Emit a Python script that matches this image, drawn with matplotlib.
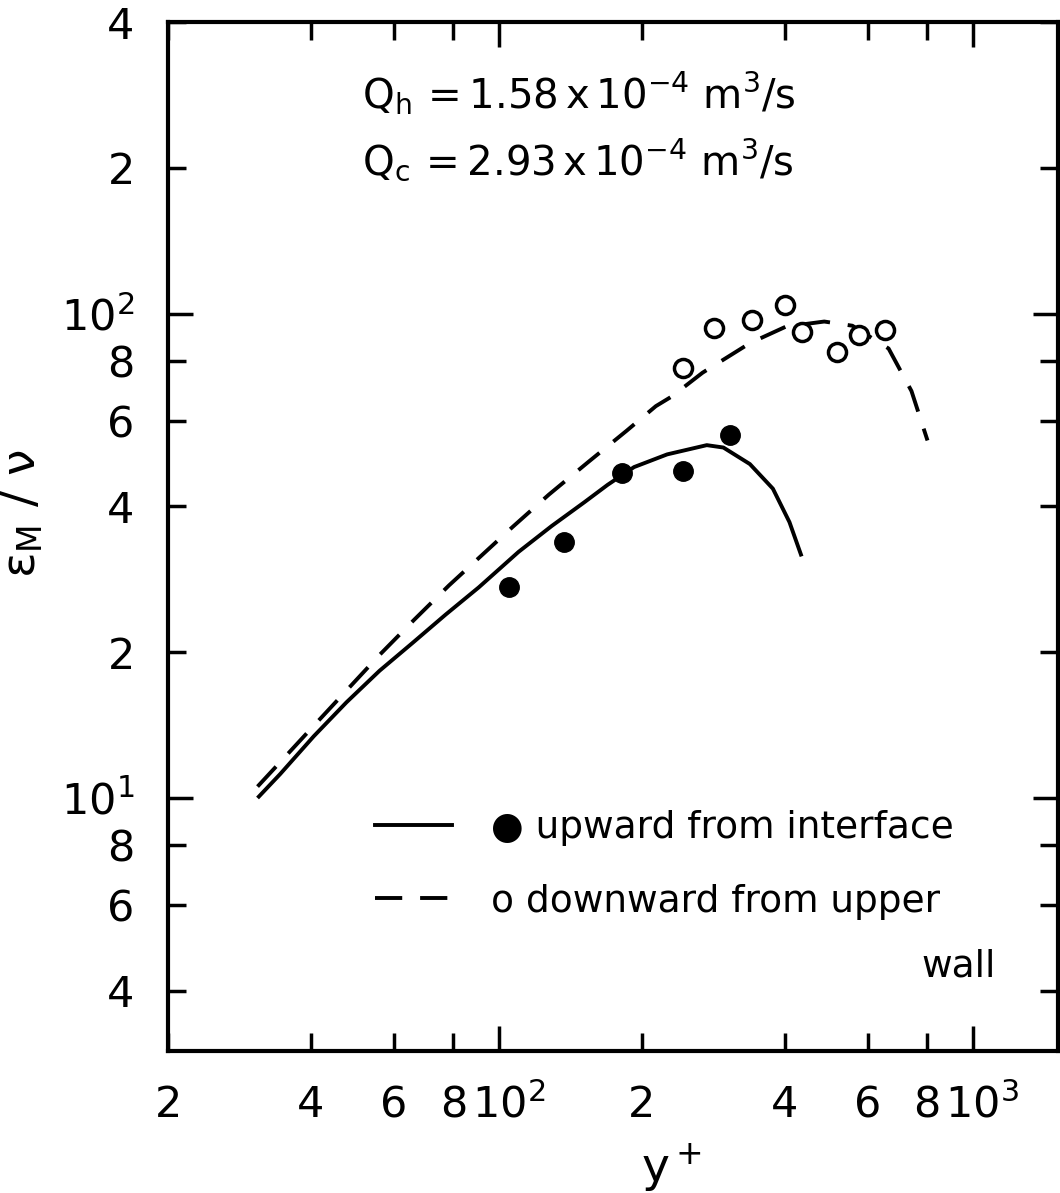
import matplotlib
matplotlib.use("Agg")
import matplotlib.pyplot as plt
import matplotlib.transforms as mtransforms
from matplotlib.ticker import FixedLocator, FixedFormatter

# curves
x_solid = [31.1, 34.5, 40.6, 47.6, 55.9, 65.7, 77.1, 90.5, 109.8, 128.9, 151.3,
           169.3, 192.5, 226.1, 274.1, 297.1, 337.9, 377.9, 409.6, 433.1]
y_solid = [10.06, 11.2, 13.4, 15.75, 18.3, 20.91, 23.91, 27.2, 32.2, 36.4, 40.8,
           44.3, 48.2, 51.2, 53.5, 52.9, 48.9, 43.5, 37.1, 31.8]

x_dash = [30.9, 34.3, 39.9, 47.2, 55.9, 66.2, 78.3, 106.7, 127.2, 153.8, 185.7,
          214, 231.6, 268.5, 338, 402.6, 485, 556, 663, 741, 801]
y_dash = [10.55, 11.78, 13.83, 16.51, 19.73, 23.34, 27.45, 36.26, 42.27, 49.3, 57.3,
          64.4, 67.5, 75.5, 86.9, 94.0, 96.3, 94.4, 84.7, 69.2, 54.7]

# measured points
x_up = [105.1, 136.8, 181.6, 244, 306.8]
y_up = [27.2, 33.8, 46.8, 47.2, 56.1]

x_down = [244.5, 284.5, 341, 400, 435.5, 516, 574, 652]
y_down = [77.1, 93.5, 96.8, 104, 91.6, 83.4, 90.3, 92.5]

x_major = [100, 1000]
x_major_labels = [r'$10^2$', r'$10^3$']
x_minor = [20, 40, 60, 80, 200, 400, 600, 800]
x_minor_labels = ['2', '4', '6', '8', '2', '4', '6', '8']

y_major = [10, 100]
y_major_labels = [r'$10^1$', r'$10^2$']
y_minor = [4, 6, 8, 20, 40, 60, 80, 200, 400]
y_minor_labels = ['4', '6', '8', '2', '4', '6', '8', '2', '4']

plt.rcParams['font.family'] = ['DejaVu Sans']

fig = plt.figure(figsize=(10.6, 11.93), dpi=100)
ax = fig.add_axes([0.1585, 0.119, 0.8396, 0.8625])
ax.set_xscale('log')
ax.set_yscale('log')

solid, = ax.plot(x_solid, y_solid, color='black', lw=2.8)
dashed, = ax.plot(x_dash, y_dash, color='black', lw=2.8, linestyle=(0, (7, 4.6)))
ax.plot(x_up, y_up, 'o', color='black', markersize=14)
ax.plot(x_down, y_down, 'o', markerfacecolor='white', markeredgecolor='black',
        markersize=13, markeredgewidth=2.5)

ax.set_xlim(20, 1510)
ax.set_ylim(3.0, 400)

ax.xaxis.set_major_locator(FixedLocator(x_major))
ax.xaxis.set_major_formatter(FixedFormatter(x_major_labels))
ax.xaxis.set_minor_locator(FixedLocator(x_minor))
ax.xaxis.set_minor_formatter(FixedFormatter(x_minor_labels))
ax.yaxis.set_major_locator(FixedLocator(y_major))
ax.yaxis.set_major_formatter(FixedFormatter(y_major_labels))
ax.yaxis.set_minor_locator(FixedLocator(y_minor))
ax.yaxis.set_minor_formatter(FixedFormatter(y_minor_labels))

ax.tick_params(which='both', direction='in', top=True, right=True,
               width=2.5, labelsize=31, pad=24)
ax.tick_params(which='major', length=18)
ax.tick_params(which='minor', length=13)
for s in ax.spines.values():
    s.set_linewidth(3)

# the 10^n labels sit a bit right of their tick in the original
shift = mtransforms.ScaledTranslation(0.09, 0, fig.dpi_scale_trans)
for lab in ax.xaxis.get_majorticklabels():
    lab.set_transform(lab.get_transform() + shift)

ax.set_xlabel(r'$\mathregular{y^+}$', fontsize=34)
ax.xaxis.set_label_coords(0.566, -0.088)
ax.set_ylabel(r'$\mathregular{\varepsilon_M\ /\ \nu}$', fontsize=34)
ax.yaxis.set_label_coords(-0.138, 0.522)

ax.text(0.218, 0.931, r'$\mathregular{Q_h\,=1.58\,x\,10^{-4}\ m^3/s}$',
        transform=ax.transAxes, fontsize=29, va='center', ha='left')
ax.text(0.218, 0.866, r'$\mathregular{Q_c\,=2.93\,x\,10^{-4}\ m^3/s}$',
        transform=ax.transAxes, fontsize=29, va='center', ha='left')

leg = ax.legend([solid, dashed],
                ['\u25cf upward from interface', 'o downward from upper'],
                loc='center left', bbox_to_anchor=(0.2326, 0.181),
                frameon=False, fontsize=27, handlelength=2.05,
                handletextpad=1.05, labelspacing=1.0, borderpad=0,
                borderaxespad=0)
ax.text(0.93, 0.082, 'wall', transform=ax.transAxes, fontsize=27,
        ha='right', va='center')

plt.savefig('out.png', dpi=100)
